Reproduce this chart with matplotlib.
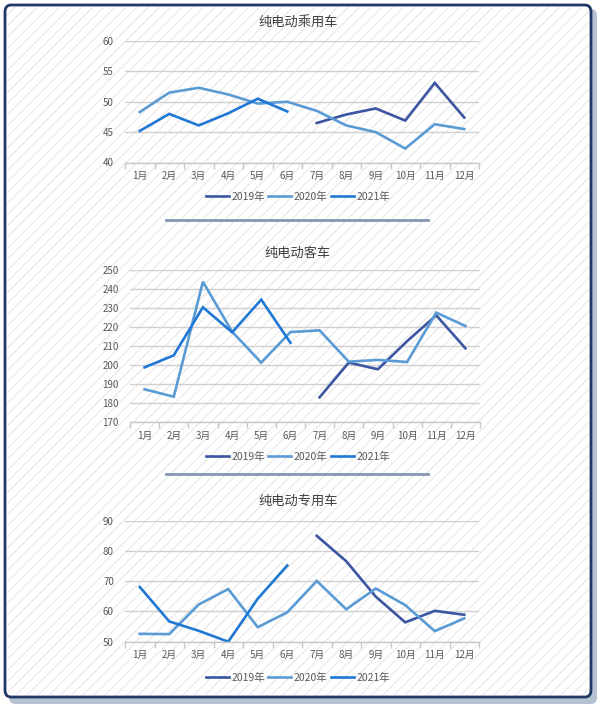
import matplotlib
matplotlib.use("Agg")
import matplotlib.pyplot as plt
from matplotlib.patches import FancyBboxPatch, Rectangle
from matplotlib.lines import Line2D

plt.rcParams['font.family'] = ['Noto Sans CJK SC', 'DejaVu Sans']
plt.rcParams['hatch.linewidth'] = 0.8

# data
months = ['1月', '2月', '3月', '4月', '5月', '6月',
          '7月', '8月', '9月', '10月', '11月', '12月']
years = ['2019年', '2020年', '2021年']

# 纯电动乘用车
passenger_2019 = [None] * 6 + [46.5, 47.9, 48.9, 46.9, 53.1, 47.4]
passenger_2020 = [48.3, 51.5, 52.3, 51.2, 49.7, 50.0, 48.5, 46.1, 45.0, 42.3, 46.3, 45.5]
passenger_2021 = [45.2, 48.0, 46.1, 48.1, 50.5, 48.4]

# 纯电动客车
bus_2019 = [None] * 6 + [183.1, 201.3, 197.8, 212.5, 226.1, 208.8]
bus_2020 = [187.3, 183.4, 243.7, 217.5, 201.3, 217.3, 218.2, 201.8, 202.7, 201.6, 227.5, 220.5]
bus_2021 = [198.8, 205.1, 230.3, 217.2, 234.3, 211.7]

# 纯电动专用车
special_2019 = [None] * 6 + [85.0, 76.6, 64.9, 56.4, 60.2, 58.9]
special_2020 = [52.6, 52.5, 62.3, 67.4, 54.8, 59.7, 70.1, 60.7, 67.6, 62.1, 53.5, 57.7]
special_2021 = [68.1, 56.7, 53.6, 50.0, 64.2, 75.2]

colors = ['#3b55a0', '#5b9bd5', '#1f78d4']

W, H = 600, 707
fig = plt.figure(figsize=(W / 100, H / 100), dpi=100)


def fx(px):
    return px / W


def fy(py):
    return 1 - py / H


# background: shadow, frame with light diagonal hatch
shadow = FancyBboxPatch((fx(9), fy(704)), fx(588), fy(9) - fy(704),
                        boxstyle="round,pad=0,rounding_size=0.01",
                        transform=fig.transFigure, facecolor='#b4c2d2',
                        edgecolor='none', zorder=0)
fig.patches.append(shadow)
frame = FancyBboxPatch((fx(5), fy(697)), fx(586), fy(5) - fy(697),
                       boxstyle="round,pad=0,rounding_size=0.01",
                       transform=fig.transFigure, facecolor='white',
                       edgecolor='#1f3864', linewidth=2, zorder=0.1)
fig.patches.append(frame)
hatch = Rectangle((fx(7), fy(695)), fx(582), fy(7) - fy(695),
                  transform=fig.transFigure, facecolor='none',
                  edgecolor='#e8e8e8', hatch='///', linewidth=0, zorder=0.2)
fig.patches.append(hatch)

panels = [
    dict(title='纯电动乘用车', rect=(125, 41, 479, 162.5), ylim=(40, 60), step=5,
         series=[passenger_2019, passenger_2020, passenger_2021],
         title_y=22, legend_y=197, sep_y=220),
    dict(title='纯电动客车', rect=(130, 269.7, 480, 422.3), ylim=(170, 250), step=10,
         series=[bus_2019, bus_2020, bus_2021],
         title_y=253, legend_y=457, sep_y=474),
    dict(title='纯电动专用车', rect=(125, 520.7, 479, 641.7), ylim=(50, 90), step=10,
         series=[special_2019, special_2020, special_2021],
         title_y=501, legend_y=678, sep_y=None),
]

for p in panels:
    l, t, r, b = p['rect']
    ax = fig.add_axes([fx(l), fy(b), fx(r - l), fy(t) - fy(b)])
    ax.set_zorder(2)
    ax.patch.set_alpha(0)
    handles = []
    for vals, c, name in zip(p['series'], colors, years):
        xs = [i for i, v in enumerate(vals) if v is not None]
        ys = [v for v in vals if v is not None]
        h, = ax.plot(xs, ys, color=c, lw=1.9, label=name, solid_joinstyle='miter')
        handles.append(h)
    lo, hi = p['ylim']
    ax.set_ylim(lo, hi)
    ax.set_xlim(-0.5, 11.5)
    ax.set_yticks(range(lo, hi + 1, p['step']))
    ax.yaxis.grid(True, color='#d0d0d0', lw=1)
    ax.set_axisbelow(True)
    ax.set_xticks(range(12))
    ax.set_xticklabels(months)
    ax.set_xticks([i - 0.5 for i in range(13)], minor=True)
    ax.tick_params(axis='x', which='major', length=0, pad=6, labelsize=7, labelcolor='#595959')
    ax.tick_params(axis='x', which='minor', length=4, color='#c8c8c8', width=1)
    ax.tick_params(axis='y', length=0, pad=8, labelsize=7, labelcolor='#595959')
    for s in ['top', 'right', 'left']:
        ax.spines[s].set_visible(False)
    ax.spines['bottom'].set_color('#c8c8c8')
    ax.spines['bottom'].set_linewidth(1)

    fig.text(fx(298), fy(p['title_y']), p['title'], ha='center', va='center',
             fontsize=9.5, color='#404040', zorder=3)
    leg = fig.legend(handles=handles, loc='center', bbox_to_anchor=(fx(298), fy(p['legend_y'])),
                     ncol=3, frameon=False, fontsize=7.5, labelcolor='#595959',
                     handlelength=2.2, handletextpad=0.25, columnspacing=0.3)
    leg.set_zorder(3)
    if p['sep_y'] is not None:
        fig.add_artist(Line2D([fx(166), fx(428)], [fy(p['sep_y'])] * 2,
                              transform=fig.transFigure, color='#8496b0', lw=2, zorder=3))

fig.savefig('out.png', dpi=100)
